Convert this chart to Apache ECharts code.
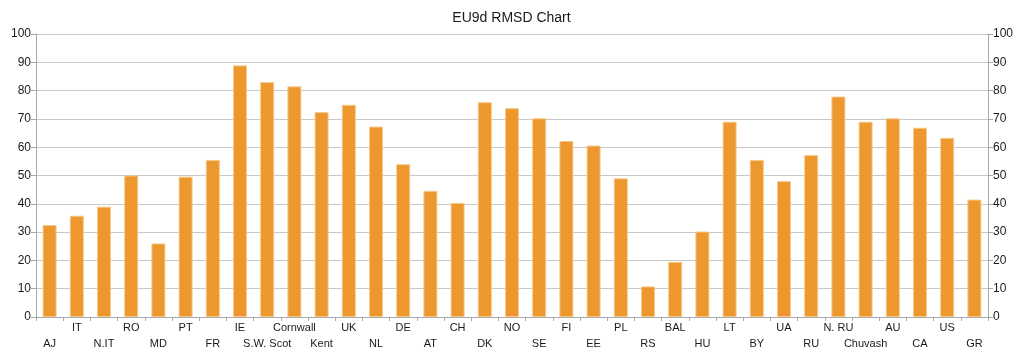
<!DOCTYPE html>
<html>
<head>
<meta charset="utf-8">
<script src="https://cdn.jsdelivr.net/npm/echarts@6/dist/echarts.min.js"></script>
<style>html,body{margin:0;padding:0;background:#fff}#c{width:1023px;height:357px}</style>
</head>
<body>
<div id="c"></div>
<script>
const categories = ['AJ','IT','N.IT','RO','MD','PT','FR','IE','S.W. Scot','Cornwall','Kent','UK','NL','DE','AT','CH','DK','NO','SE','FI','EE','PL','RS','BAL','HU','LT','BY','UA','RU','N. RU','Chuvash','AU','CA','US','GR'];
const rmsd = [32.5,35.8,39,50,26,49.6,55.5,88.9,83,81.5,72.4,75,67.3,54,44.6,40.3,75.9,73.8,70.2,62.2,60.6,49,10.8,19.5,30.2,69,55.5,48,57.2,77.9,69,70.2,66.9,63.3,41.5];
const yTicks = [0,10,20,30,40,50,60,70,80,90,100];

const chart = echarts.init(document.getElementById('c'));
const font = 'Liberation Sans, Arial, sans-serif';
const yAxisCommon = {
  type: 'value', min: yTicks[0], max: yTicks[yTicks.length-1], interval: 10,
  axisLine: {show: true, lineStyle: {color: '#a8a8a8'}},
  axisTick: {show: true, length: 5, lineStyle: {color: '#a8a8a8'}},
  axisLabel: {color: '#1a1a1a', fontSize: 12, fontFamily: font, margin: 5}
};
chart.setOption({
  animation: false,
  title: {text: 'EU9d RMSD Chart', left: 'center', top: 6,
    textStyle: {fontSize: 14, fontWeight: 'normal', color: '#1a1a1a', fontFamily: font}},
  grid: {left: 36, right: 35, top: 34, bottom: 40},
  xAxis: {
    type: 'category', data: categories,
    axisLine: {lineStyle: {color: '#a8a8a8'}},
    axisTick: {show: true, length: 4, lineStyle: {color: '#a8a8a8'}},
    axisLabel: {interval: 0, color: '#1a1a1a', fontSize: 11, fontFamily: font, margin: 3, lineHeight: 16,
      formatter: (v, i) => (i % 2 === 0 ? '\n' + v : v + '\n')}
  },
  yAxis: [
    Object.assign({}, yAxisCommon, {position: 'left', splitLine: {show: true, lineStyle: {color: '#c8c8c8'}}}),
    Object.assign({}, yAxisCommon, {position: 'right', splitLine: {show: false}})
  ],
  series: [{
    type: 'bar', data: rmsd, yAxisIndex: 0, barWidth: 14,
    itemStyle: {color: '#ed972f', borderColor: '#f7c98a', borderWidth: 1}
  }]
});
</script>
</body>
</html>
